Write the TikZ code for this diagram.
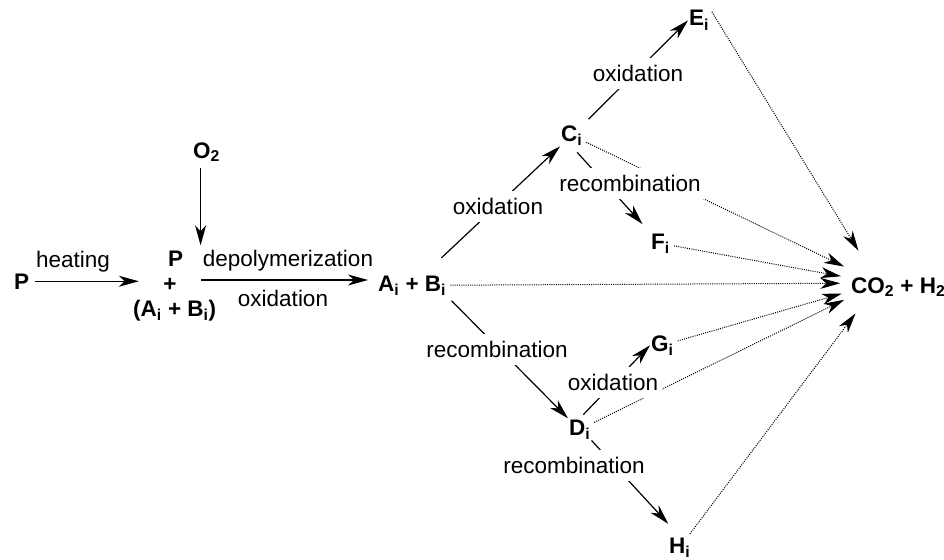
\documentclass[tikz,border=0pt]{standalone}
\usepackage{fontspec}
\setmainfont{Liberation Sans}
\usetikzlibrary{arrows.meta}

\begin{document}
\begin{tikzpicture}[
    x=1pt, y=-1pt,
    every node/.style={font=\fontsize{22.5}{27}\selectfont, inner sep=1pt},
    species/.style={
        font=\fontsize{22.5}{27}\selectfont\bfseries,
        anchor=base west,
    },
    note/.style={
        anchor=base,
        inner xsep=4pt,
        inner ysep=3pt,
        text height=20pt,
        text depth=5pt,
    },
    cut/.style={
        note,
        fill=white,
    },
    rxn/.style={
        -{Stealth[length=20pt, width=11pt, inset=6pt]},
        line width=1.2pt,
    },
    loss/.style={
        rxn,
        line width=1pt,
        dash pattern=on 1pt off 1.2pt,
        shorten <=3pt,
        shorten >=38pt,
    },
]
\useasboundingbox (0,0) rectangle (944,559);

% ===== Especies =====
\node[species] (p) at (13,289) {P};
\node[species] (mixp) at (167,266) {P};
\node[species, anchor=base, minimum width=62pt, text height=22pt] (plus) at (170,291) {+};
\node[species] (mixab) at (132,316) {(A\textsubscript{i} + B\textsubscript{i})};
\node[species] (o2) at (192,158) {O\textsubscript{2}};
\node[species] (ab) at (377,291) {A\textsubscript{i} + B\textsubscript{i}};
\node[species] (ci) at (560,141) {C\textsubscript{i}};
\node[species] (ei) at (688,26) {E\textsubscript{i}};
\node[species] (fi) at (650,249) {F\textsubscript{i}};
\node[species] (gi) at (650,351) {G\textsubscript{i}};
\node[species] (di) at (568,435) {D\textsubscript{i}};
\node[species] (hi) at (668,553) {H\textsubscript{i}};
\node[species] (co2) at (850,293) {CO\textsubscript{2} + H\textsubscript{2}};

% ===== Calentamiento y depolimerizacion =====
\draw[rxn, shorten <=5pt] (p) -- (p -| plus.west);
\draw[rxn, shorten <=5pt, shorten >=4pt] ([xshift=-6pt]o2.south) -- ([xshift=-6pt]o2.south |- mixp.north);
\draw[rxn, shorten >=9pt] (plus.east) -- (plus.east -| ab.west);

% ===== Rutas desde A_i + B_i =====
\draw[rxn, shorten <=24pt] (ab) -- (ci);
\draw[rxn, shorten <=6pt] (ab.south east) -- (di.north west);
\draw[rxn, shorten <=7pt] (ci.north east) -- (ei.west);
\draw[rxn, shorten <=8pt, shorten >=11pt] (ci.south) -- (fi.north west);
\draw[rxn, shorten <=5pt] (di.north) -- (gi.west);
\draw[rxn, shorten >=17pt] (di.south east) -- (hi.north);

% ===== Oxidacion total a CO2 + H2 (punteado) =====
\draw[loss] (ei.north east) -- ([xshift=-20pt, yshift=4pt]co2.center);
\draw[loss] (ci) -- ([xshift=-20pt, yshift=4pt]co2.center);
\draw[loss] (fi) -- ([xshift=-20pt, yshift=4pt]co2.center);
\draw[loss] (ab) -- ([xshift=-20pt, yshift=4pt]co2.center);
\draw[loss] (gi) -- ([xshift=-20pt, yshift=4pt]co2.center);
\draw[loss] (di) -- ([xshift=-20pt, yshift=4pt]co2.center);
\draw[loss] (hi) -- ([xshift=-20pt, yshift=4pt]co2.center);

% ===== Etiquetas =====
\node[note] (lheat) at (73,267) {heating};
\node[note] (ldepol) at (288,266) {depolymerization};
\node[note] (lox0) at (283,306) {oxidation};
\node[cut] (lox1) at (498,214) {oxidation};
\node[cut] (lox2) at (638,81.5) {oxidation};
\node[cut] (lrec1) at (630,191) {recombination};
\node[cut] (lrec2) at (497,357) {recombination};
\node[cut] (lox3) at (613,390) {oxidation};
\node[cut] (lrec3) at (574,473) {recombination};

\end{tikzpicture}
\end{document}
